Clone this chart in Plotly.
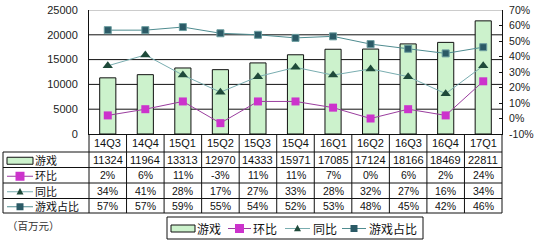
import plotly.graph_objects as go

# ---------------- data ----------------
quarters = ["14Q3", "14Q4", "15Q1", "15Q2", "15Q3", "15Q4", "16Q1", "16Q2", "16Q3", "16Q4", "17Q1"]
game_rev = [11324, 11964, 13313, 12970, 14333, 15971, 17085, 17124, 18166, 18469, 22811]  # 游戏 (百万元)
qoq = [2, 6, 11, -3, 11, 11, 7, 0, 6, 2, 24]          # 环比 %
yoy = [34, 41, 28, 17, 27, 33, 28, 32, 27, 16, 34]    # 同比 %
share = [57, 57, 59, 55, 54, 52, 53, 48, 45, 42, 46]  # 游戏占比 %

left_ticks = [0, 5000, 10000, 15000, 20000, 25000]
right_ticks = [-10, 0, 10, 20, 30, 40, 50, 60, 70]

row_names = ["游戏", "环比", "同比", "游戏占比"]
unit_label = "（百万元）"

# ---------------- style ----------------
W, H = 535, 240
PL, PR, PT, PB = 89, 502, 10, 134        # plot area in pixels
BAR_FILL = "#ccf2cc"
QOQ_LINE, QOQ_MK = "#9a3d9e", "#cc33cc"
YOY_LINE, YOY_MK = "#79adb0", "#1f4a3a"
SHR_LINE, SHR_MK = "#4f8c90", "#2b5a66"
CJK = "Noto Sans CJK SC"
LAT = "Liberation Sans"


def px(x):
    return x / W


def py(y):
    return 1 - y / H


fig = go.Figure()
fig.add_trace(go.Bar(x=quarters, y=game_rev, name="游戏", width=0.43,
                     marker=dict(color=BAR_FILL, line=dict(color="#111", width=1))))
fig.add_trace(go.Scatter(x=quarters, y=qoq, name="环比", yaxis="y2", mode="lines+markers",
                         line=dict(color=QOQ_LINE, width=1),
                         marker=dict(symbol="square", size=8, color=QOQ_MK)))
fig.add_trace(go.Scatter(x=quarters, y=yoy, name="同比", yaxis="y2", mode="lines+markers",
                         line=dict(color=YOY_LINE, width=1),
                         marker=dict(symbol="triangle-up", size=9, color=YOY_MK)))
fig.add_trace(go.Scatter(x=quarters, y=share, name="游戏占比", yaxis="y2", mode="lines+markers",
                         line=dict(color=SHR_LINE, width=1),
                         marker=dict(symbol="square", size=7, color=SHR_MK,
                                     line=dict(color="#6d9ea0", width=1))))

shapes = []
annotations = []


def hline(x0, x1, y, color="#111"):
    shapes.append(dict(type="line", xref="paper", yref="paper", x0=px(x0), x1=px(x1),
                       y0=py(y), y1=py(y), line=dict(color=color, width=1)))


def vline(x, y0, y1, color="#111"):
    shapes.append(dict(type="line", xref="paper", yref="paper", x0=px(x), x1=px(x),
                       y0=py(y0), y1=py(y1), line=dict(color=color, width=1)))


def text(x, y, s, size, family, anchor="center", color="#111", xref="paper"):
    annotations.append(dict(x=x, xref=xref, y=py(y), yref="paper", text=s, showarrow=False,
                            xanchor=anchor, yanchor="middle",
                            font=dict(family=family, size=size, color=color)))


# gridlines (black) and gray top border
for v in left_ticks[1:-1]:
    shapes.append(dict(type="line", xref="paper", yref="y", x0=px(PL), x1=px(PR), y0=v, y1=v,
                       line=dict(color="#111", width=1), layer="below"))
shapes.append(dict(type="line", xref="paper", yref="y", x0=px(PL), x1=px(PR),
                   y0=left_ticks[-1], y1=left_ticks[-1], line=dict(color="#999", width=1)))

# ---------------- data table ----------------
TL = 3
row_edges = [152, 167.5, 183, 198.5, 213]
n = len(quarters)
col_w = (PR - PL) / n
for i in range(n + 1):
    vline(PL + i * col_w, PB, row_edges[-1])
vline(TL, row_edges[0], row_edges[-1])
for y in row_edges:
    hline(TL, PR, y)

hdr_y = (PB + row_edges[0]) / 2
row_y = [(row_edges[k] + row_edges[k + 1]) / 2 for k in range(4)]
row_vals = [[str(v) for v in game_rev], [f"{v}%" for v in qoq],
            [f"{v}%" for v in yoy], [f"{v}%" for v in share]]

for i, q in enumerate(quarters):
    text(q, hdr_y, q, 11, LAT, xref="x")
    for k in range(4):
        text(q, row_y[k], row_vals[k][i], 11 if k == 0 else 10.5, LAT, xref="x")


def key(x0, x1, cy, kind):
    """legend key drawn with shapes (pixel coords)."""
    cx = (x0 + x1) / 2
    if kind == "bar":
        shapes.append(dict(type="rect", xref="paper", yref="paper", x0=px(x0), x1=px(x1),
                           y0=py(cy - 3.5), y1=py(cy + 3.5), fillcolor=BAR_FILL,
                           line=dict(color="#111", width=1)))
        return
    col, mk, s = {"qoq": (QOQ_LINE, QOQ_MK, 4.5), "yoy": (YOY_LINE, YOY_MK, 3.5),
                  "shr": (SHR_LINE, SHR_MK, 3.5)}[kind]
    shapes.append(dict(type="line", xref="paper", yref="paper", x0=px(x0), x1=px(x1),
                       y0=py(cy), y1=py(cy), line=dict(color=col, width=1)))
    if kind == "yoy":
        path = (f"M {px(cx - s):.5f},{py(cy + s * 0.8):.5f} L {px(cx + s):.5f},{py(cy + s * 0.8):.5f} "
                f"L {px(cx):.5f},{py(cy - s * 1.1):.5f} Z")
        shapes.append(dict(type="path", xref="paper", yref="paper", path=path,
                           fillcolor=mk, line=dict(color=mk, width=0)))
    else:
        shapes.append(dict(type="rect", xref="paper", yref="paper", x0=px(cx - s), x1=px(cx + s),
                           y0=py(cy - s), y1=py(cy + s), fillcolor=mk, line=dict(color=mk, width=0)))


kinds = ["bar", "qoq", "yoy", "shr"]
for k in range(4):
    key(7, 33, row_y[k] + 1, kinds[k])
    text(px(33), row_y[k], row_names[k], 11, CJK, anchor="left")

# unit label
text(px(5), 225, unit_label, 10.5, CJK, anchor="left", color="#333")

# ---------------- bottom legend ----------------
LG_Y = 228
shapes.append(dict(type="rect", xref="paper", yref="paper", x0=px(167), x1=px(423),
                   y0=py(217), y1=py(239), line=dict(color="#111", width=1)))
legend_items = [(171, 195, 195), (228, 251, 251), (285, 310, 311), (342, 366, 367)]
for k, (k0, k1, tx) in enumerate(legend_items):
    key(k0, k1, LG_Y + 0.5, kinds[k])
    text(px(tx), LG_Y, row_names[k], 12, CJK, anchor="left")

fig.update_layout(
    width=W, height=H, margin=dict(l=0, r=0, t=0, b=0, autoexpand=False),
    paper_bgcolor="white", plot_bgcolor="white", showlegend=False,
    xaxis=dict(domain=[px(PL), px(PR)], range=[-0.5, n - 0.5], showticklabels=False,
               showgrid=False, showline=True, linecolor="#111", linewidth=1, ticks="",
               zeroline=False, fixedrange=True, automargin=False),
    yaxis=dict(domain=[py(PB), py(PT)], range=[left_ticks[0], left_ticks[-1]],
               tickvals=left_ticks, ticktext=[str(v) for v in left_ticks],
               showgrid=False, zeroline=False, showline=True, automargin=False,
               linecolor="#111", linewidth=1, ticks="", ticklabelstandoff=8,
               tickfont=dict(family=LAT, size=11, color="#222")),
    yaxis2=dict(overlaying="y", side="right", range=[right_ticks[0], right_ticks[-1]],
                tickvals=right_ticks, ticktext=[f"{v}%" for v in right_ticks],
                showgrid=False, zeroline=False, showline=True, linecolor="#111", linewidth=1,
                ticks="inside", ticklen=3, tickcolor="#111", ticklabelstandoff=4, automargin=False,
                tickfont=dict(family=LAT, size=10.5, color="#222")),
    shapes=shapes, annotations=annotations,
)

fig.write_html("out.html")
